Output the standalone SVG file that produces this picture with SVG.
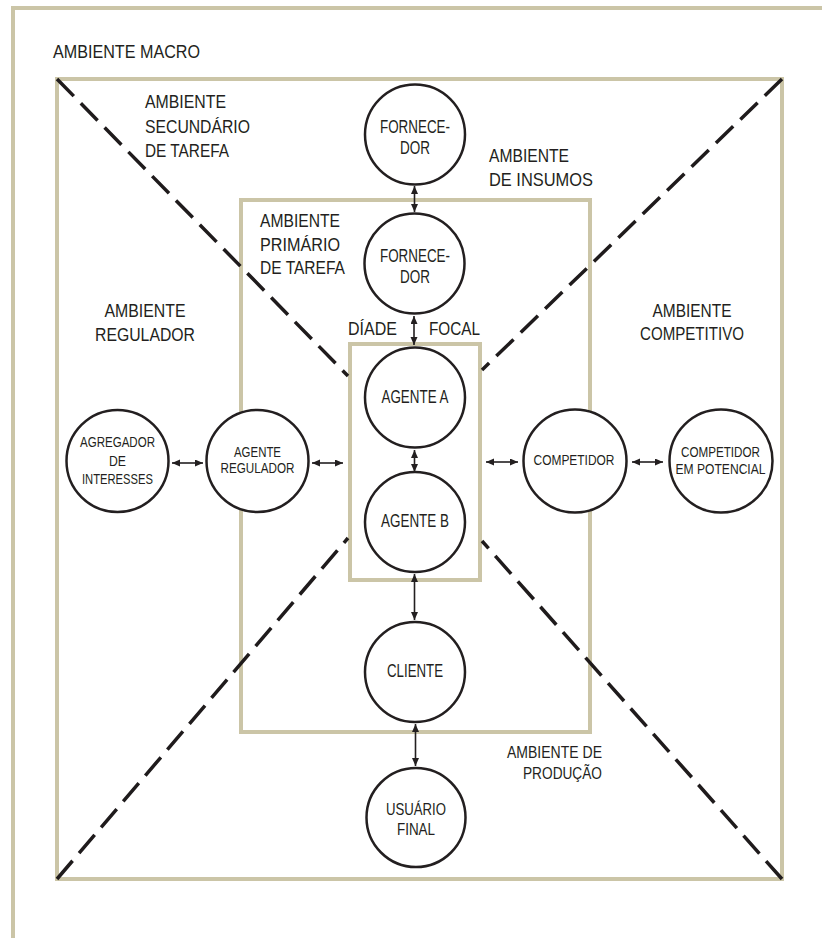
<svg xmlns="http://www.w3.org/2000/svg" width="822" height="938" viewBox="0 0 822 938">
<defs>
<style>
.frame{fill:none;stroke:#cbc5a7;stroke-width:4}
.diag{fill:none;stroke:#1f1b1c;stroke-width:3.5;stroke-dasharray:24 10}
.node circle{fill:#fff;stroke:#231f20;stroke-width:2.5}
.lbl{font-family:"Liberation Sans Narrow","Liberation Sans",Arial,sans-serif;fill:#231f20}
.big{font-size:18.5px}
.mid{font-size:17.5px}
.sm{font-size:15px}
.c{text-anchor:middle}
.e{text-anchor:end}
.conn line{stroke:#231f20;stroke-width:1.6;marker-start:url(#ah);marker-end:url(#ah)}
</style>
<marker id="ah" markerUnits="userSpaceOnUse" markerWidth="9" markerHeight="8" refX="8" refY="3.5" orient="auto-start-reverse">
<path d="M0,0 L8,3.5 L0,7 z" fill="#231f20"/>
</marker>
</defs>
<rect width="822" height="938" fill="#fff"/>
<g id="frames">
<path class="frame" d="M11,8 H822 M13,8 V938"/>
<rect class="frame" x="57" y="79" width="725" height="800"/>
<rect class="frame" x="241" y="200" width="349" height="532"/>
<rect class="frame" x="350" y="344" width="130" height="236"/>
</g>
<g id="diagonals">
<path class="diag" d="M57,79 L348,376"/>
<path class="diag" d="M782,79 L482,370"/>
<path class="diag" d="M57,879 L348,538"/>
<path class="diag" d="M782,879 L482,541"/>
</g>
<g id="labels" class="lbl">
<text class="big" x="53" y="58" textLength="147" lengthAdjust="spacingAndGlyphs">AMBIENTE MACRO</text>
<text class="big" x="145" y="108" textLength="81" lengthAdjust="spacingAndGlyphs">AMBIENTE</text>
<text class="big" x="145" y="133" textLength="105" lengthAdjust="spacingAndGlyphs">SECUNDÁRIO</text>
<text class="big" x="145" y="157" textLength="84" lengthAdjust="spacingAndGlyphs">DE TAREFA</text>
<text class="big" x="489" y="162" textLength="80" lengthAdjust="spacingAndGlyphs">AMBIENTE</text>
<text class="big" x="489" y="186" textLength="104" lengthAdjust="spacingAndGlyphs">DE INSUMOS</text>
<text class="big" x="260" y="227" textLength="80" lengthAdjust="spacingAndGlyphs">AMBIENTE</text>
<text class="big" x="260" y="251" textLength="80" lengthAdjust="spacingAndGlyphs">PRIMÁRIO</text>
<text class="big" x="260" y="274" textLength="85" lengthAdjust="spacingAndGlyphs">DE TAREFA</text>
<text class="big c" x="145" y="317" textLength="81" lengthAdjust="spacingAndGlyphs">AMBIENTE</text>
<text class="big c" x="145" y="341" textLength="100" lengthAdjust="spacingAndGlyphs">REGULADOR</text>
<text class="big c" x="692" y="317" textLength="79" lengthAdjust="spacingAndGlyphs">AMBIENTE</text>
<text class="big c" x="692" y="340" textLength="104" lengthAdjust="spacingAndGlyphs">COMPETITIVO</text>
<text class="big" x="348" y="335" textLength="49" lengthAdjust="spacingAndGlyphs">DÍADE</text>
<text class="big" x="429" y="335" textLength="51" lengthAdjust="spacingAndGlyphs">FOCAL</text>
<text class="e" font-size="16.5" x="602" y="758" textLength="95" lengthAdjust="spacingAndGlyphs">AMBIENTE DE</text>
<text class="e" font-size="16.5" x="602" y="779" textLength="79" lengthAdjust="spacingAndGlyphs">PRODUÇÃO</text>
</g>
<g id="connectors" class="conn">
<line x1="172" y1="463" x2="203" y2="463"/>
<line x1="312" y1="463" x2="343" y2="463"/>
<line x1="486" y1="462" x2="518" y2="462"/>
<line x1="632" y1="462" x2="663" y2="462"/>
<line x1="414.5" y1="186" x2="414.5" y2="212"/>
<line x1="414" y1="316" x2="414" y2="345"/>
<line x1="414.5" y1="450" x2="414.5" y2="472"/>
<line x1="414.5" y1="574" x2="414.5" y2="620"/>
<line x1="415.5" y1="724" x2="415.5" y2="766"/>
</g>
<g id="fornecedor1" class="node lbl">
<circle cx="415" cy="134.5" r="50"/>
<text class="mid c" x="415" y="133" textLength="70" lengthAdjust="spacingAndGlyphs">FORNECE-</text>
<text class="mid c" x="415" y="154" textLength="30" lengthAdjust="spacingAndGlyphs">DOR</text>
</g>
<g id="fornecedor2" class="node lbl">
<circle cx="414.5" cy="263.5" r="50"/>
<text class="mid c" x="415" y="262" textLength="70" lengthAdjust="spacingAndGlyphs">FORNECE-</text>
<text class="mid c" x="415" y="283" textLength="30" lengthAdjust="spacingAndGlyphs">DOR</text>
</g>
<g id="agenteA" class="node lbl">
<circle cx="415" cy="397.5" r="50"/>
<text class="mid c" x="415" y="403" textLength="67" lengthAdjust="spacingAndGlyphs">AGENTE A</text>
</g>
<g id="agenteB" class="node lbl">
<circle cx="415" cy="522" r="50"/>
<text class="mid c" x="415" y="527" textLength="68" lengthAdjust="spacingAndGlyphs">AGENTE B</text>
</g>
<g id="cliente" class="node lbl">
<circle cx="415" cy="672" r="50"/>
<text class="mid c" x="415" y="677" textLength="56" lengthAdjust="spacingAndGlyphs">CLIENTE</text>
</g>
<g id="usuario" class="node lbl">
<circle cx="416" cy="817.5" r="49.5"/>
<text class="c" font-size="17" x="416" y="815" textLength="60" lengthAdjust="spacingAndGlyphs">USUÁRIO</text>
<text class="c" font-size="17" x="416" y="835" textLength="38" lengthAdjust="spacingAndGlyphs">FINAL</text>
</g>
<g id="agregador" class="node lbl">
<circle cx="117.5" cy="461" r="51"/>
<text class="sm c" x="117.5" y="447" textLength="75" lengthAdjust="spacingAndGlyphs">AGREGADOR</text>
<text class="sm c" x="117.5" y="466" textLength="17" lengthAdjust="spacingAndGlyphs">DE</text>
<text class="sm c" x="117.5" y="484" textLength="71" lengthAdjust="spacingAndGlyphs">INTERESSES</text>
</g>
<g id="regulador" class="node lbl">
<circle cx="257.5" cy="461" r="51"/>
<text class="sm c" x="257.5" y="457" textLength="47" lengthAdjust="spacingAndGlyphs">AGENTE</text>
<text class="sm c" x="257.5" y="473" textLength="74" lengthAdjust="spacingAndGlyphs">REGULADOR</text>
</g>
<g id="competidor" class="node lbl">
<circle cx="575" cy="461" r="51.5"/>
<text class="sm c" x="574" y="465" textLength="81" lengthAdjust="spacingAndGlyphs">COMPETIDOR</text>
</g>
<g id="potencial" class="node lbl">
<circle cx="721" cy="461" r="51.5"/>
<text class="sm c" x="720.5" y="457" textLength="79" lengthAdjust="spacingAndGlyphs">COMPETIDOR</text>
<text class="sm c" x="720.5" y="474" textLength="90" lengthAdjust="spacingAndGlyphs">EM POTENCIAL</text>
</g>
</svg>
